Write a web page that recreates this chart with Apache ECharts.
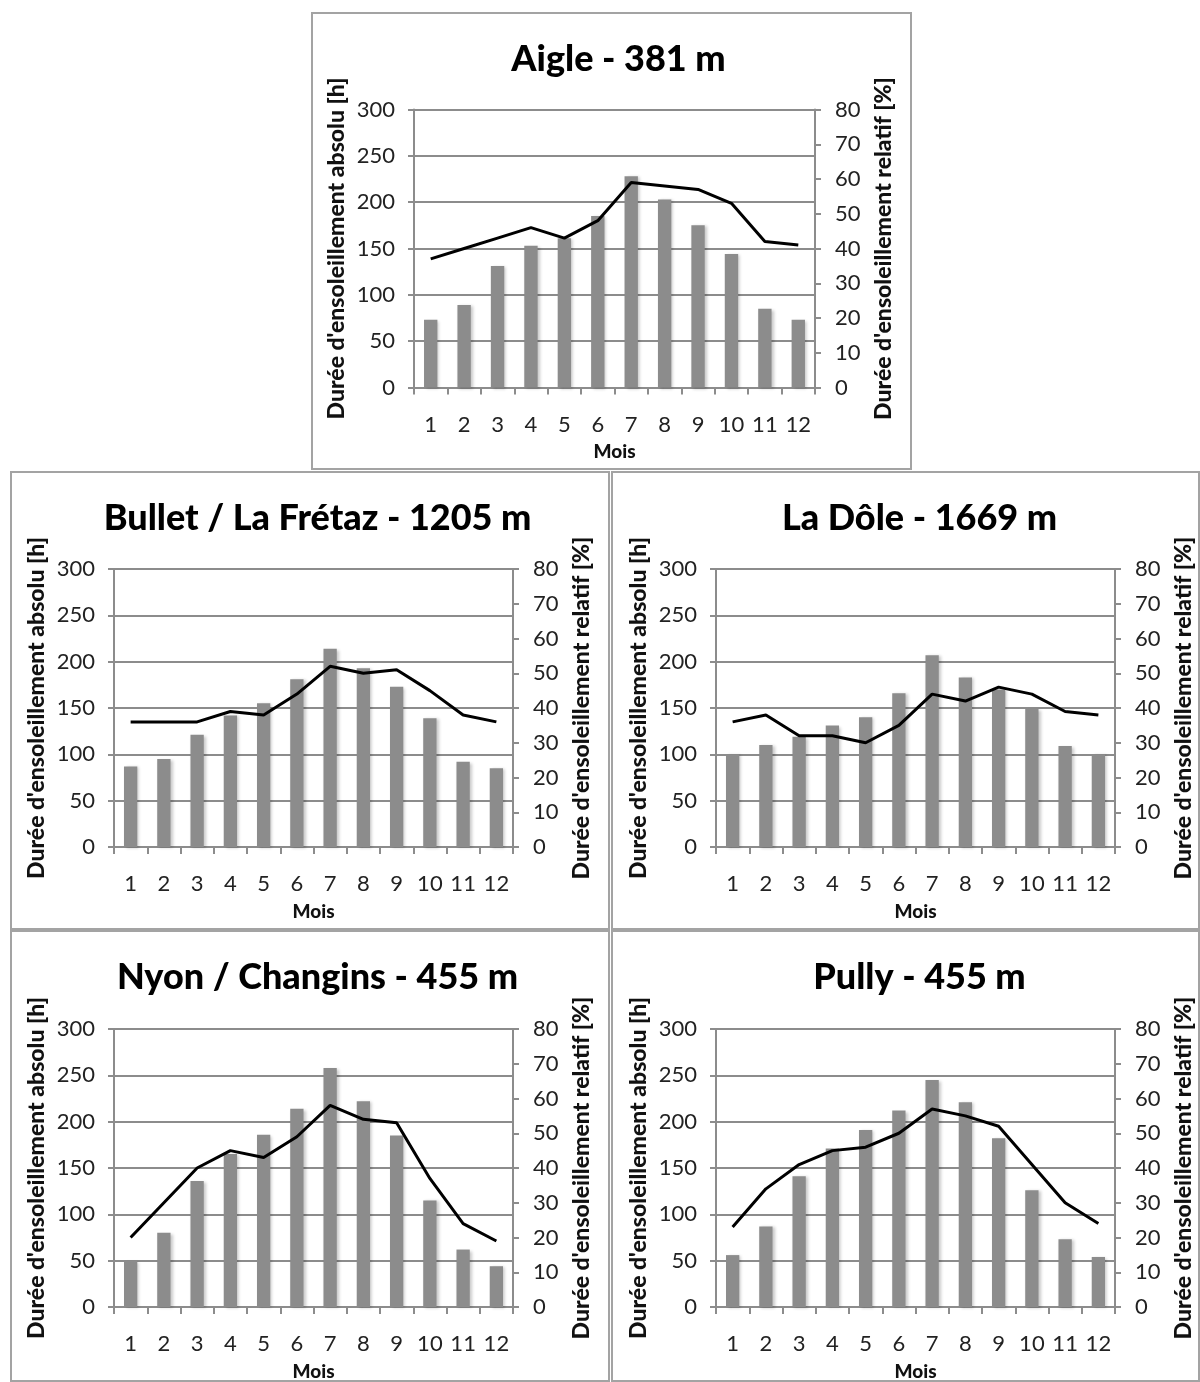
<!DOCTYPE html>
<html>
<head>
<meta charset="utf-8">
<script src="https://cdn.jsdelivr.net/npm/echarts@6/dist/echarts.min.js"></script>
<style>
  html, body { margin: 0; padding: 0; background: #fff; }
  #chart { width: 1200px; height: 1382px; }
</style>
</head>
<body>
<div id="chart"></div>
<script>
// Monthly sunshine: absolute hours (bars, left axis) and relative % (line, right axis)
const months = ['1', '2', '3', '4', '5', '6', '7', '8', '9', '10', '11', '12'];

const aigleHours  = [73, 89, 131, 153, 161, 185, 228, 203, 175, 144, 85, 73];
const aiglePct    = [37, 40, 43, 46, 43, 48, 59, 58, 57, 53, 42, 41];

const bulletHours = [87, 95, 121, 142, 155, 181, 214, 193, 173, 139, 92, 85];
const bulletPct   = [36, 36, 36, 39, 38, 44, 52, 50, 51, 45, 38, 36];

const doleHours   = [100, 110, 119, 131, 140, 166, 207, 183, 170, 149, 109, 100];
const dolePct     = [36, 38, 32, 32, 30, 35, 44, 42, 46, 44, 39, 38];

const nyonHours   = [50, 80, 136, 165, 186, 214, 258, 222, 185, 115, 62, 44];
const nyonPct     = [20, 30, 40, 45, 43, 49, 58, 54, 53, 37, 24, 19];

const pullyHours  = [56, 87, 141, 171, 191, 212, 245, 221, 182, 126, 73, 54];
const pullyPct    = [23, 34, 41, 45, 46, 50, 57, 55, 52, 41, 30, 24];

const stationTitles = [
  'Aigle - 381 m',
  'Bullet / La Frétaz - 1205 m',
  'La Dôle - 1669 m',
  'Nyon / Changins - 455 m',
  'Pully - 455 m'
];
const hoursSeries = [aigleHours, bulletHours, doleHours, nyonHours, pullyHours];
const pctSeries   = [aiglePct, bulletPct, dolePct, nyonPct, pullyPct];

const leftAxisName  = "Durée d'ensoleillement absolu [h]";
const rightAxisName = "Durée d'ensoleillement relatif [%]";
const xAxisName     = 'Mois';

// Panel frames and plot rectangles (page pixels)
const layout = [
  { frame: [312, 13, 599, 456],  plot: [414, 109.5, 401, 278] },
  { frame: [11, 472, 598, 457],  plot: [114, 569, 399, 278] },
  { frame: [612, 472, 587, 457], plot: [716, 569, 399, 278] },
  { frame: [11, 931, 598, 450],  plot: [114, 1029, 399, 278] },
  { frame: [612, 931, 587, 450], plot: [716, 1029, 399, 278] }
];

const FONT = 'Lato, "Open Sans", sans-serif';
const GRID_GRAY = '#8c8c8c';
const TEXT = '#111';

const chart = echarts.init(document.getElementById('chart'), null, { renderer: 'canvas' });

const grids = [], xAxes = [], yAxes = [], series = [], titles = [], frames = [];

layout.forEach((p, i) => {
  const [gl, gt, gw, gh] = p.plot;
  const [fx, fy, fw, fh] = p.frame;

  frames.push({
    type: 'rect',
    shape: { x: fx, y: fy, width: fw, height: fh },
    style: { fill: 'none', stroke: '#a3a3a3', lineWidth: 2 },
    silent: true
  });

  titles.push({
    text: stationTitles[i],
    left: gl + gw / 2 - 1,
    top: fy + 23,
    textAlign: 'center',
    textStyle: { fontFamily: FONT, fontWeight: 900, fontSize: 36, color: '#000' }
  });

  grids.push({ left: gl, top: gt, width: gw, height: gh, containLabel: false });

  xAxes.push({
    type: 'category',
    gridIndex: i,
    data: months,
    boundaryGap: true,
    name: xAxisName,
    nameLocation: 'middle',
    nameGap: 55,
    nameTextStyle: { fontFamily: FONT, fontWeight: 900, fontSize: 19, color: TEXT },
    axisLine: { lineStyle: { color: GRID_GRAY, width: 2 } },
    axisTick: { show: true, alignWithLabel: false, length: 7, lineStyle: { color: GRID_GRAY, width: 2 } },
    axisLabel: { margin: 26, fontFamily: FONT, fontSize: 22, color: '#222' },
    splitLine: { show: false }
  });

  yAxes.push({
    type: 'value',
    gridIndex: i,
    position: 'left',
    min: 0, max: 300, interval: 50,
    name: leftAxisName,
    nameLocation: 'middle',
    nameRotate: 90,
    nameGap: 66,
    nameTextStyle: { fontFamily: FONT, fontWeight: 900, fontSize: 23, color: TEXT },
    axisLine: { show: true, lineStyle: { color: GRID_GRAY, width: 2 } },
    axisTick: { show: true, length: 6, lineStyle: { color: GRID_GRAY, width: 2 } },
    axisLabel: { margin: 19, fontFamily: FONT, fontSize: 22, color: '#222' },
    splitLine: { show: true, lineStyle: { color: GRID_GRAY, width: 2 } }
  });

  yAxes.push({
    type: 'value',
    gridIndex: i,
    position: 'right',
    min: 0, max: 80, interval: 10,
    name: rightAxisName,
    nameLocation: 'middle',
    nameRotate: 90,
    nameGap: 57,
    nameTextStyle: { fontFamily: FONT, fontWeight: 900, fontSize: 23, color: TEXT },
    axisLine: { show: true, lineStyle: { color: GRID_GRAY, width: 2 } },
    axisTick: { show: true, length: 6, lineStyle: { color: GRID_GRAY, width: 2 } },
    axisLabel: { margin: 20, fontFamily: FONT, fontSize: 22, color: '#222' },
    splitLine: { show: false }
  });

  series.push({
    type: 'bar',
    xAxisIndex: i,
    yAxisIndex: i * 2,
    data: hoursSeries[i],
    barWidth: '40%',
    itemStyle: {
      color: '#8c8c8c',
      shadowColor: 'rgba(0,0,0,0.22)',
      shadowBlur: 3,
      shadowOffsetX: 2,
      shadowOffsetY: 1
    },
    animation: false,
    z: 2
  });

  series.push({
    type: 'line',
    xAxisIndex: i,
    yAxisIndex: i * 2 + 1,
    data: pctSeries[i],
    showSymbol: false,
    symbol: 'none',
    lineStyle: { color: '#000', width: 3 },
    animation: false,
    z: 3
  });
});

chart.setOption({
  backgroundColor: '#fff',
  animation: false,
  title: titles,
  grid: grids,
  xAxis: xAxes,
  yAxis: yAxes,
  series: series,
  graphic: frames
});
</script>
</body>
</html>
